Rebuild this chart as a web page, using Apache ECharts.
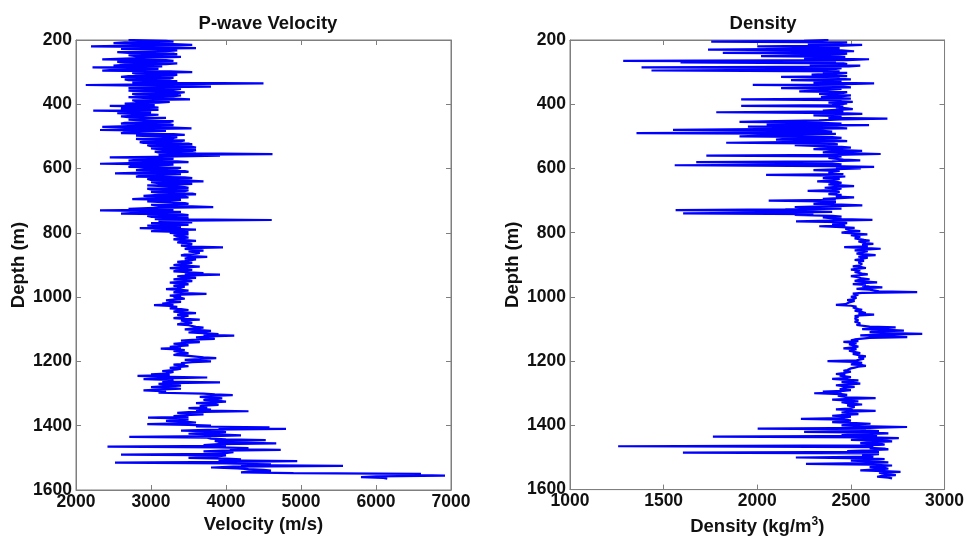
<!DOCTYPE html>
<html><head><meta charset="utf-8">
<script src="https://cdn.jsdelivr.net/npm/echarts@6/dist/echarts.min.js"></script>
<style>html,body{margin:0;padding:0;background:#fff}#c{width:967px;height:541px}</style>
</head><body><div id="c"></div>
<script>
// Sampling grid: depth (m) of first sample and spacing between samples
const depthStart = 200;
const depthStep = 2.5;

// P-wave velocity (m/s), one value every 2.5 m, in 100 m blocks
const vel200 = [2700,3200,3300,2650,2500,3300,3550,2750,2200,3250,3600,2600,2600,3350,3200,2550,2700,3300,3350,2700,2800,3400,3400,2650,2350,3200,3300,2550,2600,3350,3200,2650,2500,3150,2220,2950,3100,2500,2350,3250];
const vel300 = [3550,2750,2800,3350,3300,2700,2600,3300,3250,2650,2700,3350,3300,2750,4500,3250,2130,3100,3800,2800,2700,3400,3300,2700,2900,3450,3350,2750,2800,3400,3300,2700,2900,3300,3520,2750,2800,3250,3100,2650];
const vel400 = [2700,3050,2450,2950,3100,2600,2650,3100,2230,2950,3000,2550,2750,3100,2900,2600,2700,3200,3200,2700,2900,3300,3250,2650,2600,3250,3300,2700,2350,3300,3540,2750,2320,3200,3200,2650,2600,3300,3450,2800];
const vel500 = [2800,3350,3300,2800,2900,3450,3400,2850,2900,3500,3550,2950,3000,3550,3600,3000,3150,3600,3550,3050,3100,3600,4620,3100,3920,3350,2450,3250,3300,2800,2700,3350,3500,2850,2320,3300,3100,2750,2700,3400];
const vel600 = [3350,2900,2800,3450,3500,2900,2520,3400,3400,2850,2800,3450,3550,2950,3000,3500,3700,3000,3100,3550,3350,2950,2950,3450,3500,2950,3000,3500,3450,3000,3100,3550,3600,3050,2900,3450,3500,2950,2750,3400];
const vel700 = [3400,2950,2950,3450,3500,3000,3100,3550,3830,3050,2700,3300,2320,3150,3400,2800,2600,3400,3500,2950,3000,3500,3450,3050,4610,3100,3200,3550,3000,3400,3500,2950,2950,3400,2850,3300,3600,3100,3000,3500];
const vel800 = [3250,3400,3500,3300,3350,3450,3500,3350,3300,3450,3600,3400,3350,3500,3550,3450,3400,3550,3960,3500,3450,3600,3700,3500,3500,3650,3600,3450,3400,3550,3750,3500,3450,3600,3600,3450,3350,3550,3500,3400];
const vel900 = [3300,3500,3650,3400,3250,3450,3550,3350,3300,3500,3700,3450,3920,3500,3350,3550,3600,3400,3300,3500,3550,3400,3250,3450,3500,3350,3300,3450,3450,3350,3200,3400,3500,3350,3300,3450,3740,3400,3250,3400];
const vel1000 = [3300,3400,3450,3300,3200,3350,3400,3250,3150,3300,3040,3250,3350,3300,3250,3400,3500,3350,3300,3450,3600,3400,3350,3500,3500,3400,3300,3450,3650,3400,3400,3500,3550,3400,3350,3500,3500,3600,3700,3550];
const vel1100 = [3450,3650,3800,3600,3500,3750,3900,3700,4110,3750,3600,3800,3850,3550,3400,3600,3650,3450,3300,3450,3500,3350,3250,3400,3130,3350,3450,3300,3300,3450,3500,3350,3300,3500,3600,3700,3870,3650,3450,3600];
const vel1200 = [3800,3550,3400,3450,3300,3400,3500,3350,3250,3400,3350,3250,3150,3300,3300,3200,3000,3250,2820,3100,3750,3200,2900,3250,3300,3150,3920,3250,3100,3300,3400,3150,3000,3250,3400,3100,2900,3150,3200,3100];
const vel1300 = [3700,3850,4090,3800,3650,3850,3950,3750,3700,3900,4000,3800,3600,3850,3900,3700,3650,3750,3500,3650,3800,3600,4300,3500,3350,3550,3700,3450,3300,3500,2960,3400,3500,3350,3200,3450,3600,3400,2950,3500];
const vel1400 = [3800,3600,4580,3900,4800,3750,3400,3900,4000,3700,3500,3950,4200,3800,2710,3750,3800,4000,4530,3850,3900,4100,4670,3900,3700,4000,2420,3900,4300,4050,4730,3950,3700,4100,4100,3900,2600,4000,4000,3800];
const vel1500 = [3500,4000,4200,3900,4950,4100,2520,4000,4600,4200,5560,4100,3800,4150,4300,4500,4600,4300,4200,4900,6600,6400,6920,6000,5800,6100,6150];

// Density (kg/m^3), one value every 2.5 m, in 100 m blocks
const den200 = [2380,2250,1754,2480,2384,2270,2560,2460,2000,2300,2440,2240,1737,2450,2517,2260,1816,2480,2437,2280,2020,2470,2430,2250,2597,2480,1284,2420,1590,2460,2480,2280,2550,2490,1382,2450,2420,2270,1435,2440];
const den300 = [2350,2480,2420,2290,2300,2480,2127,2440,2400,2500,2180,2450,2440,2300,2624,2470,1976,2420,2430,2500,2127,2450,2450,2320,2224,2480,2460,2330,2380,2500,2450,2340,2380,2500,1914,2450,2430,2510,2380,2480];
const den400 = [2450,2400,1914,2460,2420,2480,2510,2420,2350,2460,1781,2440,2561,2400,2300,2450,2420,2380,2695,2450,2330,2100,1905,2300,2450,2050,2597,2200,1950,2400,2480,2000,1550,2350,2400,2150,1355,2420,2300,2050];
const den500 = [1905,2400,2450,2150,2100,2420,2480,2250,1834,2400,2430,2200,2200,2450,2500,2350,2300,2450,2560,2400,2350,2480,2659,2420,1728,2450,2450,2380,2380,2460,2550,2400,1674,2350,2400,2450,1559,2380,2624,2420];
const den600 = [2553,2420,2300,2440,2450,2380,2400,2460,2047,2420,2470,2400,2350,2440,2420,2390,2320,2430,2450,2400,2380,2450,2517,2420,2360,2450,2430,2400,2269,2440,2440,2410,2380,2450,2460,2420,2517,2440,2350,2420];
const den700 = [2061,2350,2420,2380,2300,2450,2561,2400,2200,2300,2450,2150,1564,2250,2400,2100,1604,2300,2200,2400,2450,2350,2350,2450,2615,2400,2207,2450,2480,2420,2400,2470,2331,2450,2520,2470,2460,2500,2550,2480];
const den800 = [2450,2520,2588,2500,2500,2550,2560,2520,2520,2570,2600,2540,2540,2580,2620,2560,2550,2590,2464,2560,2659,2570,2520,2590,2580,2550,2530,2580,2632,2560,2540,2590,2580,2550,2520,2570,2570,2540,2530,2560];
const den900 = [2570,2540,2510,2560,2580,2530,2500,2550,2560,2520,2520,2560,2590,2540,2500,2530,2540,2560,2600,2540,2520,2580,2640,2560,2510,2580,2560,2600,2668,2570,2530,2600,2600,2650,2854,2560,2510,2540,2550,2520];
const den1000 = [2500,2530,2540,2510,2480,2520,2520,2490,2490,2470,2420,2500,2530,2510,2500,2540,2560,2520,2510,2560,2580,2540,2624,2550,2520,2540,2550,2520,2510,2540,2540,2520,2520,2550,2550,2530,2530,2600,2739,2620];
const den1100 = [2560,2700,2783,2620,2600,2720,2881,2650,2550,2700,2801,2600,2560,2520,2500,2540,2460,2510,2530,2490,2480,2520,2540,2500,2460,2530,2520,2490,2490,2530,2550,2510,2520,2550,2580,2540,2540,2570,2580,2530];
const den1200 = [2375,2520,2560,2530,2500,2560,2580,2540,2520,2500,2500,2480,2460,2500,2480,2460,2420,2470,2440,2450,2500,2480,2400,2460,2540,2500,2450,2520,2550,2480,2420,2460,2520,2480,2460,2440,2500,2460,2350,2450];
const den1300 = [2304,2450,2480,2430,2420,2480,2632,2500,2400,2470,2540,2450,2450,2500,2560,2480,2470,2520,2520,2490,2420,2510,2632,2480,2450,2510,2540,2470,2400,2500,2470,2450,2233,2480,2500,2460,2400,2500,2605,2480];
const den1400 = [2450,2550,2800,2600,2002,2580,2550,2650,2250,2620,2700,2570,2450,2640,1763,2600,2756,2620,2500,2680,2720,2600,2550,2660,2680,2580,1257,2620,2600,2680,2700,2600,2480,2650,1603,2600,2650,2560,2550,2620];
const den1500 = [2206,2580,2680,2550,2500,2620,2700,2580,2260,2600,2720,2640,2600,2680,2700,2620,2550,2680,2765,2650,2650,2700,2740,2660,2640,2700,2720];

// Axis ticks
const depthTicks = [200, 400, 600, 800, 1000, 1200, 1400, 1600];
const velTicks = [2000, 3000, 4000, 5000, 6000, 7000];
const denTicks = [1000, 1500, 2000, 2500, 3000];

const velocity = [].concat(vel200, vel300, vel400, vel500, vel600, vel700, vel800, vel900, vel1000, vel1100, vel1200, vel1300, vel1400, vel1500);
const density = [].concat(den200, den300, den400, den500, den600, den700, den800, den900, den1000, den1100, den1200, den1300, den1400, den1500);
const velData = velocity.map((v, i) => [v, depthStart + i * depthStep]);
const denData = density.map((v, i) => [v, depthStart + i * depthStep]);

const FONT = 'Liberation Sans';
const GRAY = '#7f7f7f';
const lbl = {fontFamily: FONT, fontWeight: 'bold', fontSize: 17.5, color: '#111'};
const big = {fontFamily: FONT, fontWeight: 'bold', fontSize: 18.5, color: '#111'};
const plain = v => String(v);

function xAx(gi, ticks, pos, showLabel, name) {
  return {
    type: 'value', gridIndex: gi, position: pos,
    min: ticks[0], max: ticks[ticks.length - 1], interval: ticks[1] - ticks[0],
    axisLine: {show: true, onZero: false, lineStyle: {color: GRAY, width: 1}},
    axisTick: {show: true, inside: true, length: 5, lineStyle: {color: GRAY}},
    axisLabel: Object.assign({show: showLabel, margin: 3, showMinLabel: true, showMaxLabel: true, formatter: plain}, lbl),
    splitLine: {show: false},
    name: name || '', nameLocation: 'middle', nameGap: 23,
    nameTextStyle: Object.assign({}, big, {rich: {
      sup: {fontFamily: FONT, fontWeight: 'bold', fontSize: 12, color: '#111', verticalAlign: 'top', padding: [0, 0, 10, 0]},
      n: big
    }})
  };
}
function yAx(gi, pos, showLabel, name) {
  return {
    type: 'value', gridIndex: gi, position: pos, inverse: true,
    min: depthTicks[0], max: depthTicks[depthTicks.length - 1], interval: depthTicks[1] - depthTicks[0],
    axisLine: {show: true, onZero: false, lineStyle: {color: GRAY, width: 1}},
    axisTick: {show: true, inside: true, length: 5, lineStyle: {color: GRAY}},
    axisLabel: Object.assign({show: showLabel, margin: 4, showMinLabel: true, showMaxLabel: true, formatter: plain}, lbl),
    splitLine: {show: false},
    name: name || '', nameLocation: 'middle', nameGap: 48, nameRotate: 90,
    nameTextStyle: big
  };
}

const chart = echarts.init(document.getElementById('c'));
chart.setOption({
  animation: false,
  backgroundColor: '#fff',
  title: [
    {text: 'P-wave Velocity', left: 263, top: 9, textAlign: 'center', textStyle: big},
    {text: 'Density', left: 758, top: 9, textAlign: 'center', textStyle: big}
  ],
  grid: [
    {left: 76, top: 40, width: 375, height: 450, show: true, borderColor: GRAY, borderWidth: 1},
    {left: 570, top: 40, width: 376, height: 450, show: true, borderColor: GRAY, borderWidth: 1}
  ],
  xAxis: [
    xAx(0, velTicks, 'bottom', true, 'Velocity (m/s)'),
    xAx(0, velTicks, 'top', false),
    xAx(1, denTicks, 'bottom', true, '{n|Density (kg/m}{sup|3}{n|)}'),
    xAx(1, denTicks, 'top', false)
  ],
  yAxis: [
    yAx(0, 'left', true, 'Depth (m)'),
    yAx(0, 'right', false),
    yAx(1, 'left', true, 'Depth (m)'),
    yAx(1, 'right', false)
  ],
  series: [
    {type: 'line', xAxisIndex: 0, yAxisIndex: 0, data: velData, showSymbol: false, symbol: 'none',
     lineStyle: {color: '#0000ff', width: 2.2}, itemStyle: {color: '#0000ff'}},
    {type: 'line', xAxisIndex: 2, yAxisIndex: 2, data: denData, showSymbol: false, symbol: 'none',
     lineStyle: {color: '#0000ff', width: 2.2}, itemStyle: {color: '#0000ff'}}
  ]
});
</script></body></html>
